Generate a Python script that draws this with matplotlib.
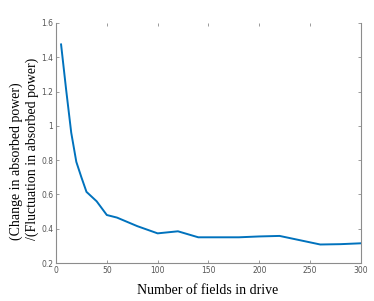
import matplotlib.pyplot as plt
from matplotlib.ticker import FormatStrFormatter

# values
n_fields = [5, 10, 15, 20, 25, 30, 40, 50, 60, 80, 100, 120, 140, 160,
            180, 200, 220, 240, 260, 280, 300]
power_ratio = [1.475, 1.21, 0.96, 0.79, 0.70, 0.615, 0.56, 0.48, 0.465,
               0.415, 0.373, 0.385, 0.35, 0.35, 0.35, 0.355, 0.358, 0.333,
               0.308, 0.31, 0.315]

x_ticks = [0, 50, 100, 150, 200, 250, 300]
y_ticks = [0.2, 0.4, 0.6, 0.8, 1.0, 1.2, 1.4, 1.6]

fig = plt.figure(figsize=(3.74, 3.01), dpi=100)
ax = fig.add_axes([0.1497, 0.1262, 0.8153, 0.7974])

ax.plot(n_fields, power_ratio, color='#0072BD', linewidth=1.4)

ax.set_xlim(0, 300)
ax.set_ylim(0.2, 1.6)
ax.set_xticks(x_ticks)
ax.set_yticks(y_ticks)
ax.yaxis.set_major_formatter(FormatStrFormatter('%g'))

grey = '#8c8c8c'
for side in ['left', 'bottom', 'right']:
    ax.spines[side].set_color(grey)
    ax.spines[side].set_linewidth(0.8)
ax.spines['top'].set_visible(False)

ax.tick_params(direction='in', length=2.5, width=0.6, colors=grey,
               labelsize=5.5, labelcolor='#555555', top=True, right=True,
               pad=2)

serif = ['Liberation Serif', 'DejaVu Serif']
fig.text(0.556, 1 - 290 / 301, 'Number of fields in drive', family=serif,
         fontsize=10, ha='center', va='center')
fig.text(24 / 374, 1 - 240 / 301,
         '(Change in absorbed power)\n/(Fluctuation in absorbed power)',
         family=serif, fontsize=10, rotation=90, ha='center', va='bottom',
         multialignment='left', linespacing=1.2)

plt.savefig('out.png', dpi=100)
